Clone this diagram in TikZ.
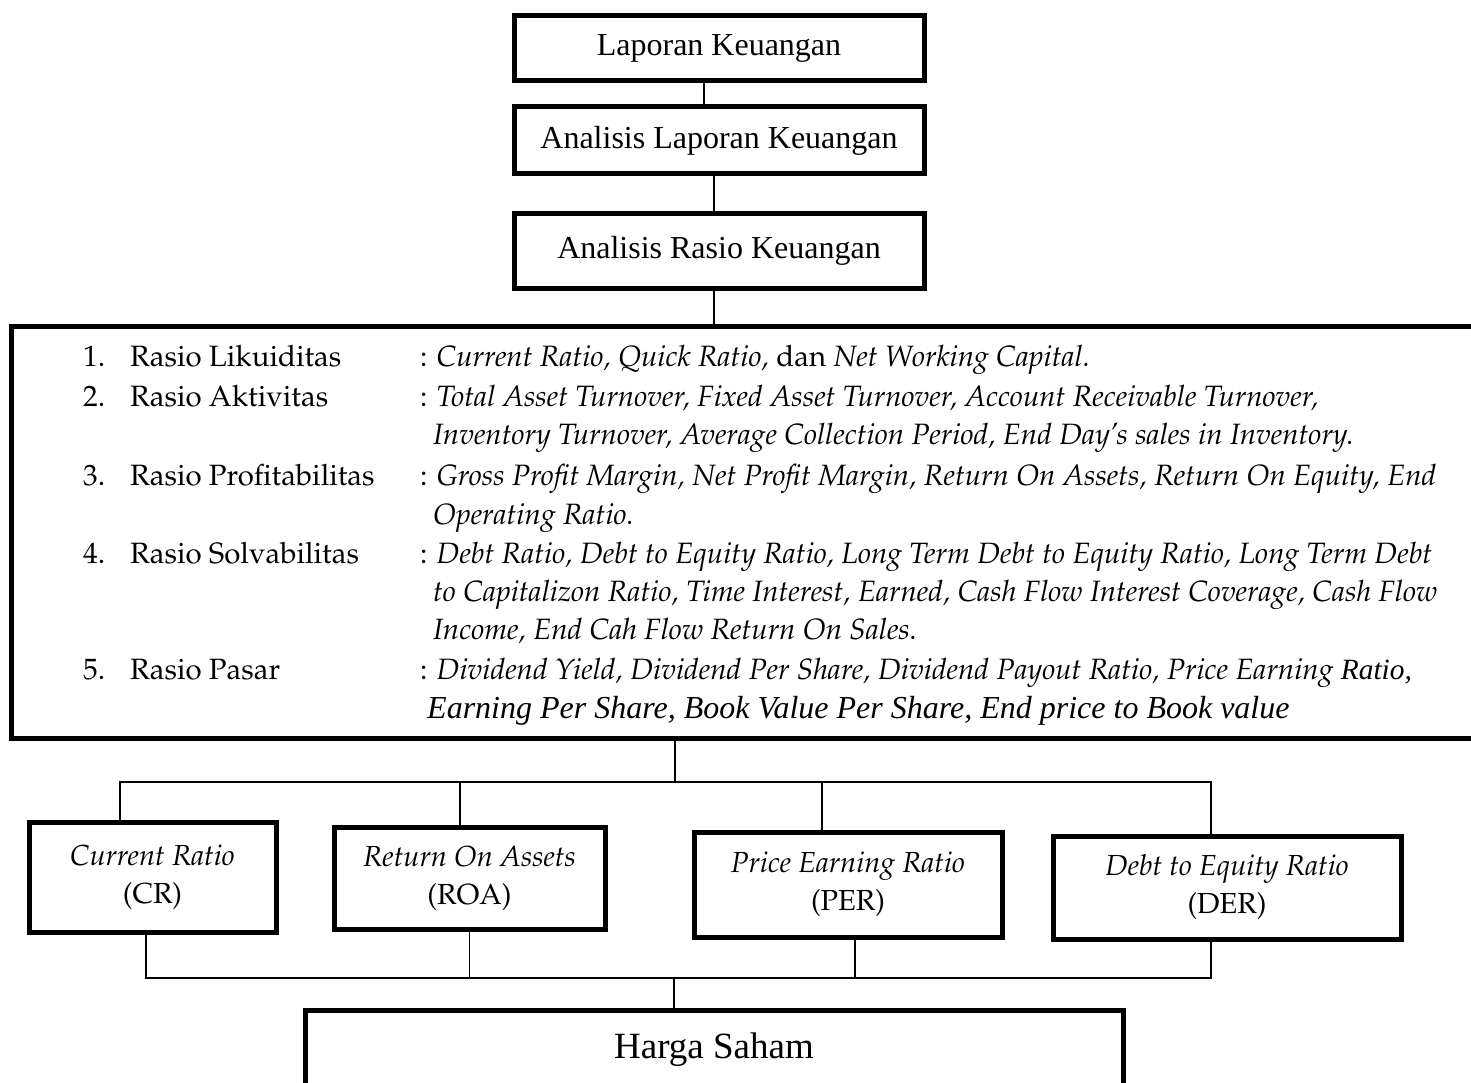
\documentclass[tikz,border=0pt]{standalone}
\usepackage[T1]{fontenc}
\usepackage{fontspec}
\setmainfont{Liberation Serif}
\usepackage{tikz}
\newcommand{\tnr}{\fontencoding{TU}\fontfamily{\rmdefault}\selectfont}
\IfFileExists{t1ppl.fd}
  {\newcommand{\pala}{\fontencoding{T1}\fontfamily{ppl}\selectfont}}
  {\newcommand{\pala}{\tnr}}

\begin{document}
\begin{tikzpicture}[x=1pt,y=-1pt,
  topbox/.style={draw,line width=5pt,minimum width=410pt,minimum height=65pt,font=\fontsize{32}{38}\selectfont},
  ratiobox/.style={draw,line width=5pt,align=center,font=\pala\fontsize{29}{38}\selectfont},
  item/.style={anchor=base west,inner sep=0pt,font=\pala\fontsize{29.4}{36}\selectfont},
  link/.style={line width=1.6pt}]
\useasboundingbox (0,0) rectangle (1471,1083);
\clip (0,0) rectangle (1471,1083);

% alur analisis
\node[topbox] (laporan) at (719,48.5) {Laporan Keuangan};
\node[topbox,minimum height=67pt] (analisis) at (719,140.5) {Analisis Laporan Keuangan};
\node[topbox,minimum height=74pt] (rasio) at (719,251) {Analisis Rasio Keuangan};
\node[draw,line width=5pt,minimum width=1480pt,minimum height=412pt] (daftar) at (751,532) {};
\draw[link] ([xshift=-15pt]laporan.south) -- ([xshift=-15pt]analisis.north);
\draw[link] ([xshift=-5pt]analisis.south) -- ([xshift=-5pt]rasio.north);
\draw[link] ([xshift=-5pt]rasio.south) -- ([xshift=-5pt]rasio.south |- daftar.north);

% jenis rasio
\node[item] (no1) at (83,366) {1.};
\node[item] (jenis1) at (130,366) {Rasio Likuiditas};
\node[item] (isi1) at (420,366) {: \textit{Current Ratio, Quick Ratio,} dan \textit{Net Working Capital.}};
\node[item] (no2) at (83,406) {2.};
\node[item] (jenis2) at (130,406) {Rasio Aktivitas};
\node[item] (isi2) at (420,406) {: \textit{Total Asset Turnover, Fixed Asset Turnover, Account Receivable Turnover,}};
\node[item] (isi2b) at (433,444) {\textit{Inventory Turnover, Average Collection Period, End Day's sales in Inventory.}};
\node[item] (no3) at (83,485) {3.};
\node[item] (jenis3) at (130,485) {Rasio Profitabilitas};
\node[item] (isi3) at (420,485) {: \textit{Gross Profit Margin, Net Profit Margin, Return On Assets, Return On Equity, End}};
\node[item] (isi3b) at (433,524) {\textit{Operating Ratio.}};
\node[item] (no4) at (83,563) {4.};
\node[item] (jenis4) at (130,563) {Rasio Solvabilitas};
\node[item] (isi4) at (420,563) {: \textit{Debt Ratio, Debt to Equity Ratio, Long Term Debt to Equity Ratio, Long Term Debt}};
\node[item] (isi4b) at (433,601) {\textit{to Capitalizon Ratio, Time Interest, Earned, Cash Flow Interest Coverage, Cash Flow}};
\node[item] (isi4c) at (433,639) {\textit{Income, End Cah Flow Return On Sales.}};
\node[item] (no5) at (83,679) {5.};
\node[item] (jenis5) at (130,679) {Rasio Pasar};
\node[item] (isi5) at (420,679) {: \textit{Dividend Yield, Dividend Per Share, Dividend Payout Ratio, Price Earning} {\tnr\itshape Ratio,}};
\node[item] (isi5b) at (427,718) {\tnr\fontsize{32}{36}\selectfont\itshape Earning Per Share, Book Value Per Share, End price to Book value};

% variabel
\coordinate (atas) at (675,782);
\draw[link] (daftar.south -| atas) -- (atas);
\node[ratiobox,minimum width=247pt,minimum height=110pt] (cr) at (152.5,877) {\textit{Current Ratio}\\(CR)};
\node[ratiobox,minimum width=271pt,minimum height=102pt] (roa) at (469.5,878) {\textit{Return On Assets}\\(ROA)};
\node[ratiobox,minimum width=308pt,minimum height=105pt] (per) at (848,884.5) {\textit{Price Earning Ratio}\\(PER)};
\node[ratiobox,minimum width=348pt,minimum height=103pt] (der) at (1227,887.5) {\textit{Debt to Equity Ratio}\\(DER)};
\draw[link] ([xshift=-32.5pt]cr.north) |- ([xshift=-16pt]der.north |- atas) -- ([xshift=-16pt]der.north);
\draw[link] ([xshift=-9.5pt]roa.north) -- ([xshift=-9.5pt]roa.north |- atas);
\draw[link] ([xshift=-26pt]per.north) -- ([xshift=-26pt]per.north |- atas);

% harga saham
\coordinate (bawah) at (674,978);
\node[draw,line width=5pt,minimum width=818pt,minimum height=80pt,font=\fontsize{37}{44}\selectfont] (harga) at (714,1050) {Harga Saham};
\draw[link] ([xshift=-6.5pt]cr.south) |- ([xshift=-16pt]der.south |- bawah) -- ([xshift=-16pt]der.south);
\draw[link] (roa.south) -- (roa.south |- bawah);
\draw[link] ([xshift=7pt]per.south) -- ([xshift=7pt]per.south |- bawah);
\draw[link] (bawah) -- (bawah |- harga.north);
\end{tikzpicture}
\end{document}
